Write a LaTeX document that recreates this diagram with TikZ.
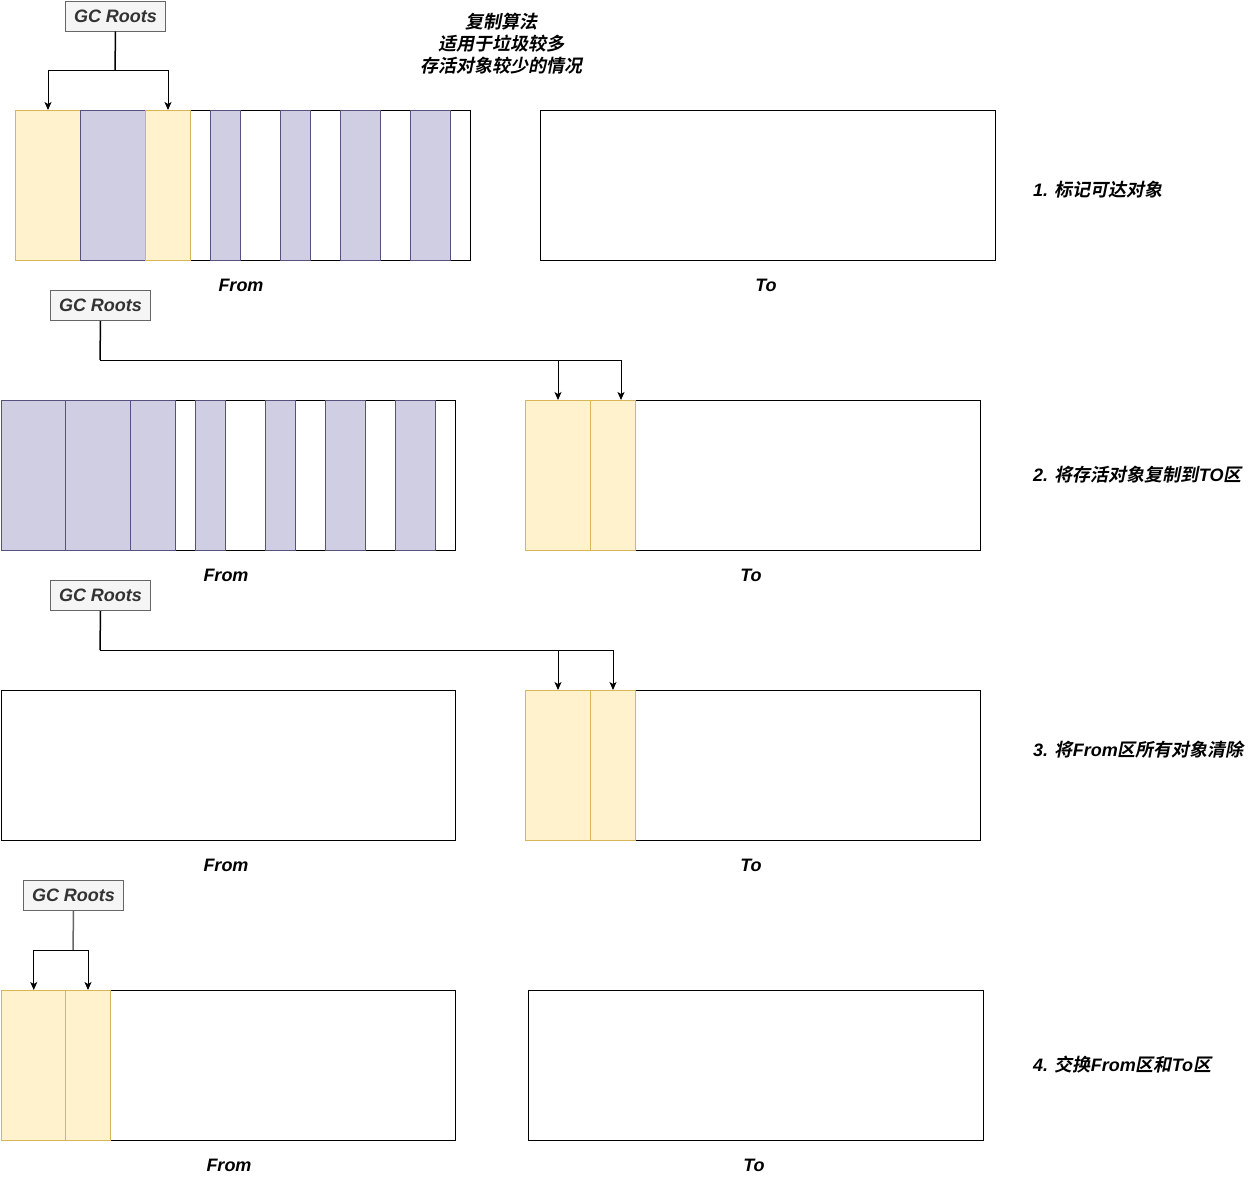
\documentclass[tikz,border=0pt]{standalone}
\usepackage{fontspec}
\setmainfont{Liberation Sans}
\newfontfamily\cjk{Noto Sans CJK SC}[UprightFont=* Bold, FakeSlant=0.2]
\usetikzlibrary{arrows.meta}
\definecolor{ylwfill}{HTML}{FFF2CC}
\definecolor{ylwline}{HTML}{D6B656}
\definecolor{prpfill}{HTML}{D0CEE2}
\definecolor{prpline}{HTML}{56517E}
\definecolor{gcfill}{HTML}{F5F5F5}
\definecolor{gcline}{HTML}{666666}
\definecolor{gctext}{HTML}{333333}
\newcommand{\zh}[1]{{\cjk\mdseries\upshape #1}}
\tikzset{
  gcbox/.style={draw=gcline, fill=gcfill, text=gctext, line width=1pt,
    minimum width=100pt, minimum height=30pt, inner sep=0pt, anchor=north west,
    font=\fontsize{18}{22}\selectfont\bfseries\itshape},
  area/.style={draw=black, fill=white, line width=1pt, minimum height=150pt,
    inner sep=0pt, anchor=north west},
  ylw/.style={draw=ylwline, fill=ylwfill, line width=1pt, minimum height=150pt,
    inner sep=0pt, anchor=north west},
  prp/.style={draw=prpline, fill=prpfill, line width=1pt, minimum height=150pt,
    inner sep=0pt, anchor=north west},
  lbl/.style={font=\fontsize{18}{22}\selectfont\bfseries\itshape, inner sep=0pt},
  conn/.style={draw=black, line width=1pt, -{Stealth[length=8pt,width=7pt,inset=2pt]}},
  plain/.style={draw=black, line width=1.5pt}
}
\newcommand{\seg}[5]{\node[#5, minimum width=#3pt-#2pt] (#1) at (#2,#4) {};}
\begin{document}
\begin{tikzpicture}[x=1pt,y=-1pt]
\useasboundingbox (0,0) rectangle (1251,1181);
% title
\node[lbl, align=center, font=\fontsize{18}{22}\selectfont] (title) at (501,44)
  {\zh{复制算法}\\\zh{适用于垃圾较多}\\\zh{存活对象较少的情况}};
% ---------- row 1 ----------
\node[gcbox] (gc1) at (65,0.5) {GC Roots};
\seg{f1}{15}{470}{110}{area}
\seg{f1a}{15}{80}{110}{ylw}
\seg{f1b}{80}{145}{110}{prp}
\seg{f1c}{145}{190}{110}{ylw}
\seg{f1d}{210}{240}{110}{prp}
\seg{f1e}{280}{310}{110}{prp}
\seg{f1f}{340}{380}{110}{prp}
\seg{f1g}{410}{450}{110}{prp}
\seg{t1}{540}{995}{110}{area}
\node[lbl] (lf1) at (241,285) {From};
\node[lbl] (lt1) at (766,285) {To};
\node[lbl, anchor=west] (s1) at (1033,190) {1. \zh{标记可达对象}};
\coordinate (j1) at (115,70);
\draw[plain] (gc1.south) -- (j1);
\draw[conn] (j1) -| (f1a.north);
\draw[conn] (j1) -| (f1c.north);
% ---------- row 2 ----------
\node[gcbox] (gc2) at (50,290) {GC Roots};
\seg{f2}{0.5}{455}{400}{area}
\seg{f2a}{0.5}{65}{400}{prp}
\seg{f2b}{65}{130}{400}{prp}
\seg{f2c}{130}{175}{400}{prp}
\seg{f2d}{195}{225}{400}{prp}
\seg{f2e}{265}{295}{400}{prp}
\seg{f2f}{325}{365}{400}{prp}
\seg{f2g}{395}{435}{400}{prp}
\seg{t2}{525}{980}{400}{area}
\seg{t2a}{525}{590}{400}{ylw}
\seg{t2b}{590}{635}{400}{ylw}
\node[lbl] (lf2) at (226,575) {From};
\node[lbl] (lt2) at (751,575) {To};
\node[lbl, anchor=west] (s2) at (1033,475) {2. \zh{将存活对象复制到}TO\zh{区}};
\coordinate (j2) at (100,360);
\draw[plain] (gc2.south) -- (j2);
\draw[conn] (j2) -| (t2a.north);
\draw[conn] (j2) -| ([xshift=8pt]t2b.north);
% ---------- row 3 ----------
\node[gcbox] (gc3) at (50,580) {GC Roots};
\seg{f3}{0.5}{455}{690}{area}
\seg{t3}{525}{980}{690}{area}
\seg{t3a}{525}{590}{690}{ylw}
\seg{t3b}{590}{635}{690}{ylw}
\node[lbl] (lf3) at (226,865) {From};
\node[lbl] (lt3) at (751,865) {To};
\node[lbl, anchor=west] (s3) at (1033,750) {3. \zh{将}From\zh{区所有对象清除}};
\coordinate (j3) at (100,650);
\draw[plain] (gc3.south) -- (j3);
\draw[conn] (j3) -| (t3a.north);
\draw[conn] (j3) -| (t3b.north);
% ---------- row 4 ----------
\node[gcbox] (gc4) at (23,880) {GC Roots};
\seg{f4}{0.5}{455}{990}{area}
\seg{f4a}{0.5}{65}{990}{ylw}
\seg{f4b}{65}{110}{990}{ylw}
\seg{t4}{528}{983}{990}{area}
\node[lbl] (lf4) at (229,1165) {From};
\node[lbl] (lt4) at (754,1165) {To};
\node[lbl, anchor=west] (s4) at (1033,1065) {4. \zh{交换}From\zh{区和}To\zh{区}};
\coordinate (j4) at (73,950);
\draw[plain, draw=gcline] (gc4.south) -- (j4);
\draw[conn] (j4) -| ([xshift=0.5pt]f4a.north);
\draw[conn] (j4) -| (f4b.north);
\end{tikzpicture}
\end{document}
